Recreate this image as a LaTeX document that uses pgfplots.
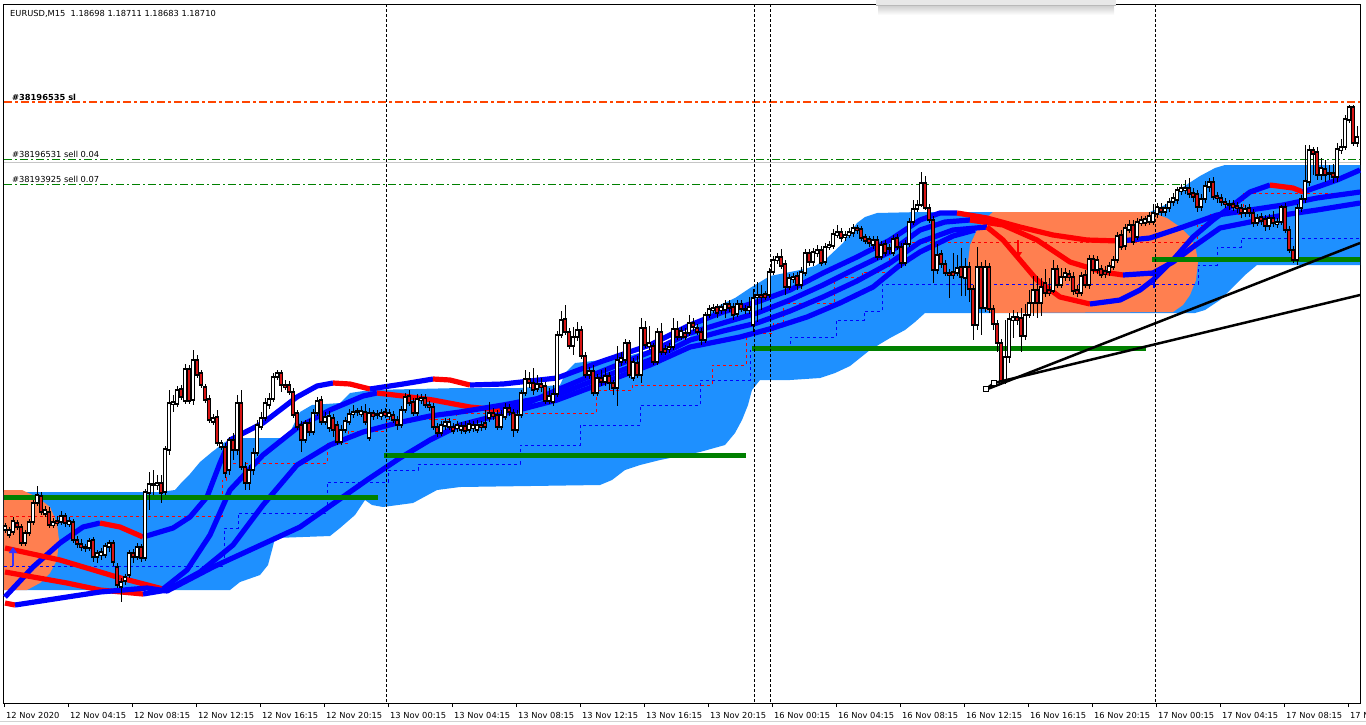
\documentclass[border=0pt]{standalone}
\usepackage{pgfplots}
\pgfplotsset{compat=1.18}
\usepackage{pgfplotstable}
\usepackage{fontspec}
\setmainfont{DejaVu Sans}
\usetikzlibrary{arrows.meta}
\definecolor{dodger}{RGB}{30,144,255}
\definecolor{salmonc}{RGB}{255,127,80}
\definecolor{orred}{RGB}{255,69,0}
\definecolor{mtgreen}{RGB}{0,128,0}
\definecolor{bear}{RGB}{215,20,20}
\definecolor{mablue}{RGB}{0,0,255}
\definecolor{mared}{RGB}{255,0,0}
\pgfplotsset{
  mab/.style={mablue, line width=5.2pt, line join=round, mark=none},
  mar/.style={mared, line width=5.2pt, line join=round, mark=none},
}
% candles: x (pixel), open, close, high, low (pixel rows, downward)
\pgfplotstableread{
x o c h l
5 530 526 523 533
9 535 530 527 538
13 532 521 517 535
17 523 527 520 530
21 527 543 524 546
25 543 533 530 546
29 533 522 519 536
33 522 503 500 525
37 503 495 486 506
41 496 512 492 515
45 514 510 506 517
49 512 525 507 528
53 525 522 518 528
57 521 523 516 526
61 522 516 511 525
65 516 523 513 527
69 524 521 517 527
73 522 540 519 543
77 540 544 536 548
81 544 547 539 551
85 547 548 544 552
89 548 541 538 551
93 540 557 537 562
97 557 553 550 563
101 555 552 548 560
105 555 546 543 558
109 547 543 540 552
113 543 562 540 566
117 567 585 563 588
121 587 582 578 602
125 581 577 574 585
129 575 553 550 578
133 553 557 549 563
137 557 547 543 560
141 547 558 544 562
145 558 492 489 561
149 493 484 472 510
153 484 485 470 495
157 485 483 475 490
161 483 493 475 503
165 492 449 446 495
169 450 403 390 455
173 404 402 395 412
177 404 390 386 407
181 389 397 385 400
185 401 369 364 404
189 369 401 365 404
193 400 360 350 405
197 360 375 355 378
201 373 385 370 388
205 387 400 384 403
209 399 420 395 423
213 422 418 414 425
217 417 443 410 446
221 447 443 440 450
225 447 473 443 478
229 470 440 437 475
233 440 450 433 460
237 450 403 395 455
241 403 467 390 470
245 467 483 462 490
249 483 470 465 490
253 470 453 448 475
257 453 425 420 456
261 427 418 412 430
265 418 403 398 421
269 405 399 393 409
273 399 377 373 402
277 377 373 370 380
281 373 385 370 392
285 385 387 380 390
289 385 392 381 395
293 392 415 388 418
297 413 427 410 430
301 425 440 421 452
305 440 423 420 443
309 423 432 419 436
313 432 413 409 435
317 413 401 397 416
321 400 422 396 425
325 422 417 412 425
329 428 416 411 432
333 418 430 414 437
337 425 442 421 445
341 442 430 425 445
345 430 421 417 433
349 422 414 409 425
353 414 412 405 418
357 412 411 408 416
361 414 411 406 417
365 412 422 404 425
369 438 413 408 441
373 413 416 410 420
377 414 415 410 419
381 416 413 409 420
385 412 415 408 418
389 416 413 409 420
393 415 420 411 423
397 420 425 416 430
401 425 410 406 428
405 410 397 393 413
409 396 403 390 406
413 402 413 398 416
417 413 399 394 416
421 400 398 394 404
425 398 405 394 408
429 405 407 401 411
433 407 427 403 430
437 427 433 423 437
441 433 425 421 436
445 426 422 418 430
449 427 422 418 430
453 427 431 423 434
457 428 425 421 432
461 430 426 422 434
465 426 431 421 434
469 430 424 420 433
473 428 425 421 432
477 430 425 420 433
481 425 427 421 431
485 423 427 410 430
489 418 413 402 422
493 413 416 408 420
497 415 427 410 430
501 427 415 410 430
505 417 408 403 420
509 408 412 404 416
513 413 430 409 437
517 430 415 410 433
521 415 393 390 418
525 393 379 370 396
529 379 383 372 388
533 383 390 368 395
537 389 384 375 392
541 384 387 378 392
545 386 401 382 404
549 401 396 388 404
553 402 394 385 406
557 394 335 331 397
561 335 320 311 338
565 319 332 305 335
569 332 346 328 349
573 346 337 327 355
577 337 330 322 341
581 330 356 326 359
585 356 375 352 378
589 375 371 367 379
593 371 393 365 396
597 393 378 374 396
601 378 382 370 386
605 382 376 368 386
609 376 383 372 390
613 383 388 380 395
617 388 360 346 406
621 362 358 352 366
625 360 343 339 363
629 343 375 340 378
633 378 362 358 381
637 363 375 356 378
641 375 328 318 383
645 328 345 321 348
649 346 343 326 350
653 346 362 343 365
657 362 332 328 365
661 332 352 323 355
665 349 352 345 355
669 349 347 343 353
673 347 329 318 350
677 329 337 321 340
681 337 331 327 340
685 333 337 328 340
689 333 323 315 336
693 323 327 318 331
697 328 332 324 335
701 332 340 328 345
705 340 315 312 343
709 315 309 305 318
713 310 308 304 313
717 307 313 304 318
721 310 307 304 314
725 310 304 300 318
729 304 308 300 312
733 307 315 303 320
737 314 304 300 317
741 304 309 300 312
745 309 310 305 314
749 310 307 297 314
753 325 298 289 332
757 297 295 282 322
761 295 297 285 310
765 294 297 291 300
769 295 272 268 298
773 272 260 256 275
777 260 257 253 264
781 257 266 249 269
785 264 287 260 295
789 287 278 274 290
793 279 277 273 283
797 276 285 272 290
801 285 272 267 289
805 273 253 249 276
809 253 262 249 266
813 262 252 248 266
817 253 250 245 257
821 250 263 246 266
825 262 247 243 265
829 247 245 241 250
833 246 234 229 249
837 235 232 225 238
841 232 238 228 242
845 237 235 231 241
849 235 232 228 238
853 233 228 224 237
857 228 230 225 234
861 229 238 226 241
865 237 241 234 244
869 239 243 236 247
873 245 240 236 249
877 240 257 236 260
881 257 245 241 260
885 244 253 240 256
889 248 249 244 254
893 253 239 235 256
897 238 247 234 250
901 247 263 243 268
905 263 244 240 266
909 244 222 218 247
913 222 209 200 225
917 209 205 200 212
921 205 183 172 207
925 183 208 176 210
929 208 220 204 223
933 220 270 216 283
937 270 255 244 274
941 254 264 250 268
945 264 273 260 276
949 273 275 269 298
953 272 275 253 279
957 273 268 255 276
961 267 277 248 296
965 278 267 258 296
969 267 289 262 302
973 289 325 285 340
977 325 267 247 330
981 267 308 262 335
985 308 267 260 312
989 267 309 263 313
993 309 324 305 330
997 324 343 320 352
1001 343 381 339 384
1005 381 357 320 384
1009 357 319 313 363
1013 320 317 310 338
1017 317 320 312 325
1021 318 336 308 352
1025 336 315 304 340
1029 315 303 290 318
1033 303 290 276 316
1037 290 303 276 318
1041 303 287 278 316
1045 283 293 269 297
1049 290 293 278 296
1053 291 269 260 293
1057 269 285 265 288
1061 285 277 268 288
1065 277 273 268 281
1069 274 277 270 281
1073 277 291 272 295
1077 290 293 285 297
1081 293 276 272 296
1085 275 285 270 288
1089 285 259 255 289
1093 259 270 255 274
1097 270 260 256 274
1101 269 275 265 278
1105 271 274 266 278
1109 272 266 262 276
1113 267 260 256 270
1117 260 236 232 263
1121 235 247 230 250
1125 246 228 224 250
1129 230 225 220 233
1133 225 242 220 245
1137 237 222 218 240
1141 223 220 216 226
1145 223 219 216 226
1149 222 216 212 225
1153 222 213 204 225
1157 214 207 203 218
1161 208 212 203 216
1165 212 208 204 216
1169 208 202 198 212
1173 202 198 193 206
1177 200 190 187 204
1181 191 188 184 195
1185 190 188 180 194
1189 188 194 178 198
1193 193 197 188 202
1197 194 207 190 212
1201 207 199 194 211
1205 199 186 181 203
1209 187 182 178 192
1213 182 197 177 200
1217 196 198 192 203
1221 198 202 194 206
1225 202 204 198 208
1229 204 205 200 210
1233 204 207 200 211
1237 206 208 202 213
1241 208 213 204 218
1245 213 209 205 217
1249 208 213 204 217
1253 213 223 209 227
1257 223 218 214 226
1261 217 221 213 225
1265 219 226 215 231
1269 226 218 214 230
1273 218 223 211 227
1277 224 222 218 228
1281 222 207 205 225
1285 207 230 203 233
1289 230 250 226 253
1293 250 260 246 263
1297 260 208 204 265
1301 208 199 195 212
1305 199 181 145 203
1309 182 150 145 186
1313 150 154 147 175
1317 152 175 147 180
1321 175 168 158 180
1325 169 175 160 182
1329 173 174 165 180
1333 173 177 164 183
1337 177 149 143 182
1341 150 147 139 154
1345 147 119 115 150
1349 120 107 105 123
1353 107 143 105 146
1357 143 137 126 147
}\candles

\begin{document}
\begin{tikzpicture}
\useasboundingbox (0,0) rectangle (1366pt,-725pt);
\begin{axis}[
  at={(4pt,-4pt)}, anchor=north west,
  scale only axis, width=1356pt, height=699pt,
  xmin=4, xmax=1360, ymin=4, ymax=703, y dir=reverse,
  clip=false,
  axis line style={black, line width=1pt},
  ytick=\empty,
  xtick={4,68,...,1348},
  xticklabels={12 Nov 2020,12 Nov 04:15,12 Nov 08:15,12 Nov 12:15,12 Nov 16:15,12 Nov 20:15,13 Nov 00:15,13 Nov 04:15,13 Nov 08:15,13 Nov 12:15,13 Nov 16:15,13 Nov 20:15,16 Nov 00:15,16 Nov 04:15,16 Nov 08:15,16 Nov 12:15,16 Nov 16:15,16 Nov 20:15,17 Nov 00:15,17 Nov 04:15,17 Nov 08:15,17 Nov 12:15},
  xtick pos=left, tick align=outside, major tick length=4pt,
  tick style={black, line width=0.8pt},
  xticklabel style={anchor=base west, inner sep=0pt, xshift=2pt, yshift=-11pt, font=\fontsize{8.3}{10}\selectfont},
]
% order lines
\addplot[mtgreen, line width=1pt, dash pattern=on 8pt off 3pt on 2pt off 3pt] coordinates {(4,184) (1360,184)};
\addplot[gray!45, line width=1pt] coordinates {(4,162) (1360,162)};
\addplot[mtgreen, line width=1pt, dash pattern=on 8pt off 3pt on 2pt off 3pt] coordinates {(4,159) (1360,159)};
\addplot[orred, line width=2.5pt, dash pattern=on 8pt off 3pt on 3pt off 3pt] coordinates {(4,102) (1360,102)};
% light blue envelope
\addplot[fill=dodger, draw=none] coordinates {
 (4,492) (160,492) (175,490) (182,482) (190,474) (200,462) (212,452) (225,442) (240,438) (288,438) (292,428) (300,412) (312,405) (340,403) (350,393) (370,390) (460,388) (520,388) (560,385) (566,372) (575,363) (620,358) (650,350) (690,337) (700,320) (720,305) (735,298) (750,288) (770,276) (800,270) (815,266) (827,258) (843,243) (857,223) (865,217) (877,213) (920,212) (1150,212) (1165,205) (1175,197) (1183,187) (1200,176) (1215,168) (1225,165) (1360,165)
 (1360,265) (1257,265) (1245,275) (1235,285) (1220,300) (1205,310) (1195,313) (925,313) (915,322) (905,330) (890,338) (870,350) (860,358) (850,366) (835,373) (820,378) (790,380) (760,380) (752,390) (748,405) (742,420) (735,433) (725,445) (700,452) (660,460) (640,465) (625,470) (612,480) (600,485) (460,487) (437,490) (413,503) (383,507) (372,505) (365,500) (355,515) (340,528) (330,536) (275,538) (272,550) (268,565) (260,575) (240,582) (230,590) (4,590)} -- cycle;
% salmon zones
\addplot[fill=salmonc, draw=none] coordinates {(4,490) (22,490) (37,497) (50,507) (57,523) (59,540) (57,560) (50,573) (40,583) (27,590) (4,590)} -- cycle;
\addplot[fill=salmonc, draw=none] coordinates {(993,212) (1150,212) (1167,218) (1180,227) (1190,237) (1196,250) (1198,262) (1196,280) (1190,295) (1183,305) (1173,312) (993,313) (983,308) (975,298) (970,285) (968,262) (970,245) (977,230) (985,219)} -- cycle;
% stepped dashed lines
\addplot[mared, line width=0.9pt, dash pattern=on 3pt off 3pt] coordinates {(4,516) (222,516) (222,480) (226,480) (226,463) (327,463) (327,443) (348,443) (348,431) (386,431) (386,419) (456,419) (456,413) (596,413) (596,390) (632,390) (632,385) (712,385) (712,365) (746,365) (746,333) (773,333) (773,323) (783,323) (783,303) (834,303) (834,277) (862,277) (862,272) (889,272) (889,242) (1197,242) (1197,225) (1210,225) (1210,214) (1243,214) (1243,193) (1360,193)};
\addplot[mablue, line width=0.9pt, dash pattern=on 3pt off 3pt] coordinates {(4,566) (224,566) (224,528) (238,528) (238,513) (327,513) (327,482) (388,482) (388,470) (418,470) (418,464) (520,464) (520,445) (580,445) (580,425) (640,425) (640,405) (700,405) (700,380) (750,380) (750,350) (790,350) (790,337) (836,337) (836,320) (864,320) (864,311) (882,311) (882,284) (1198,284) (1198,265) (1217,265) (1217,247) (1241,247) (1241,238) (1360,238)};
% moving averages
\addplot[mab] coordinates {(5,597) (33,567) (60,543) (83,527) (100,523)};
\addplot[mar] coordinates {(100,523) (120,527) (143,537)};
\addplot[mab] coordinates {(143,537) (173,528) (190,517) (207,497) (220,463) (230,440) (263,423) (297,397) (317,386) (333,383)};
\addplot[mar] coordinates {(333,383) (350,384) (370,389)};
\addplot[mab] coordinates {(370,389) (403,384) (433,379)};
\addplot[mar] coordinates {(433,379) (450,380) (470,385)};
\addplot[mab] coordinates {(470,385) (503,384) (557,378) (600,362) (650,345) (690,325) (723,312) (757,302) (790,290) (823,273) (857,257) (890,240) (920,220) (940,213) (957,213)};
\addplot[mar] coordinates {(957,213) (987,218) (1020,227) (1053,235) (1087,240) (1120,241)};
\addplot[mab] coordinates {(1120,241) (1150,238) (1183,227) (1217,215) (1250,210) (1283,205) (1317,198) (1360,192)};
\addplot[mar] coordinates {(5,548) (60,560) (117,577) (163,589)};
\addplot[mab] coordinates {(163,589) (187,570) (210,535) (230,490) (263,455) (297,428) (330,410) (363,396) (377,393)};
\addplot[mar] coordinates {(377,393) (403,396) (433,400) (470,407) (500,410)};
\addplot[mab] coordinates {(500,410) (530,402) (557,390) (600,372) (650,352) (690,333) (723,323) (757,313) (790,300) (823,285) (857,268) (890,252) (920,230) (945,222) (970,220)};
\addplot[mar] coordinates {(970,220) (1003,225) (1037,240) (1070,262) (1103,272) (1123,275)};
\addplot[mab] coordinates {(1123,275) (1153,273) (1173,262) (1193,247) (1220,228) (1250,222) (1283,215) (1317,210) (1360,203)};
\addplot[mar] coordinates {(5,572) (67,583) (100,590) (143,594)};
\addplot[mab] coordinates {(143,594) (167,590) (200,572) (233,545) (263,505) (297,465) (330,445) (363,432) (397,423) (430,416) (460,412) (503,405) (557,395) (600,378) (650,360) (690,340) (723,331) (757,323) (790,311) (823,297) (857,281) (890,263) (920,242) (953,230) (987,227)};
\addplot[mar] coordinates {(987,227) (1003,240) (1020,260) (1037,280) (1060,297) (1090,304)};
\addplot[mab] coordinates {(1090,304) (1120,300) (1140,290) (1153,280) (1173,260) (1193,237) (1213,220) (1233,205) (1250,192) (1270,185)};
\addplot[mar] coordinates {(1270,185) (1293,188) (1303,192)};
\addplot[mab] coordinates {(1303,192) (1337,180) (1360,170)};
\addplot[mar] coordinates {(5,603) (15,605)};
\addplot[mab] coordinates {(15,605) (67,597) (100,592) (147,588) (167,591) (213,567) (250,550) (300,527) (367,480) (400,458) (430,440) (460,425) (503,414) (557,400) (600,384) (650,365) (690,347) (740,337) (773,328) (807,317) (840,303) (873,287) (900,265) (920,252) (953,236) (975,230)};
% support lines
\addplot[mtgreen, line width=5pt] coordinates {(4,497) (378,497)};
\addplot[mtgreen, line width=5pt] coordinates {(384,455) (746,455)};
\addplot[mtgreen, line width=5pt] coordinates {(752,348) (1146,348)};
\addplot[mtgreen, line width=5pt] coordinates {(1152,259) (1360,259)};
% signal arrows
\addplot[blue!80!white, line width=2.5pt, -{Triangle[width=8pt,length=6pt]}] coordinates {(13,566) (13,547)};
\addplot[mared, line width=2.5pt, -{Triangle[width=8pt,length=6pt]}] coordinates {(1018,240) (1018,258)};
\addplot[mablue, line width=2.5pt, -{Triangle[width=8pt,length=6pt]}] coordinates {(1154,288) (1154,270)};
% candles: wicks, body outline, fills
\addplot[draw=none, mark=none, error bars/.cd, y dir=both, y explicit, error mark=none, error bar style={draw=black, line width=0.9pt}]
  table[x=x, y expr={(\thisrow{h}+\thisrow{l})/2}, y error expr={(\thisrow{l}-\thisrow{h})/2}] {\candles};
\addplot[draw=none, mark=none, error bars/.cd, y dir=both, y explicit, error mark=none, error bar style={draw=black, line width=3.4pt}]
  table[x=x, y expr={(\thisrow{o}+\thisrow{c})/2}, y error expr={abs(\thisrow{o}-\thisrow{c})/2+0.6}] {\candles};
\addplot[draw=none, mark=none, restrict expr to domain={\thisrow{o}-\thisrow{c}}{1.5:1000}, error bars/.cd, y dir=both, y explicit, error mark=none, error bar style={draw=white, line width=1.4pt}]
  table[x=x, y expr={(\thisrow{o}+\thisrow{c})/2}, y error expr={(\thisrow{o}-\thisrow{c})/2-0.6}] {\candles};
\addplot[draw=none, mark=none, restrict expr to domain={\thisrow{c}-\thisrow{o}}{1.5:1000}, error bars/.cd, y dir=both, y explicit, error mark=none, error bar style={draw=bear, line width=1.4pt}]
  table[x=x, y expr={(\thisrow{o}+\thisrow{c})/2}, y error expr={(\thisrow{c}-\thisrow{o})/2-0.6}] {\candles};
% trend lines
\addplot[black, line width=2.5pt] coordinates {(985,390) (1360,243)};
\addplot[black, line width=2.5pt] coordinates {(986,389) (994,383) (1360,295)};
\addplot[only marks, mark=square*, mark size=2.6pt, mark options={fill=white, draw=black, line width=1.5pt}] coordinates {(986,389) (994,383)};
% session separators
\addplot[black, line width=1pt, dash pattern=on 3pt off 2pt] coordinates {(386,4) (386,703)};
\addplot[black, line width=1pt, dash pattern=on 3pt off 2pt] coordinates {(754,4) (754,703)};
\addplot[black, line width=1pt, dash pattern=on 3pt off 2pt] coordinates {(770,4) (770,703)};
\addplot[black, line width=1pt, dash pattern=on 3pt off 2pt] coordinates {(1155,4) (1155,703)};
% popup window edge at the top and window border at the bottom
\shade[top color=gray!40, bottom color=white] (axis cs:878,5) rectangle (axis cs:1114,15);
\fill[gray!18] (axis cs:876,0) rectangle (axis cs:1116,6);
\draw[gray!55, line width=0.8pt] (axis cs:876,5.5) -- (axis cs:1116,5.5);
\draw[gray!35, line width=1pt] (axis cs:0,721) -- (axis cs:1366,721);
% texts
\node[anchor=base west, inner sep=0pt, font=\fontsize{8.3}{10}\selectfont] at (axis cs:10,16) {EURUSD,M15\ \ 1.18698 1.18711 1.18683 1.18710};
\node[anchor=base west, inner sep=0pt, font=\fontsize{8.3}{10}\selectfont\bfseries] at (axis cs:12,100) {\#38196535 sl};
\node[anchor=base west, inner sep=0pt, font=\fontsize{8.3}{10}\selectfont] at (axis cs:12,157) {\#38196531 sell 0.04};
\node[anchor=base west, inner sep=0pt, font=\fontsize{8.3}{10}\selectfont] at (axis cs:12,182) {\#38193925 sell 0.07};
\end{axis}
\end{tikzpicture}
\end{document}
